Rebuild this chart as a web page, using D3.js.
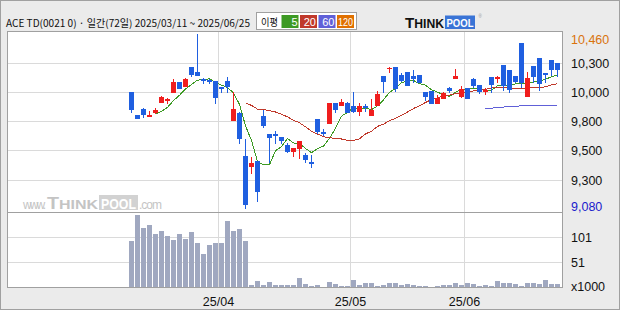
<!DOCTYPE html>
<html>
<head>
<meta charset="utf-8">
<script src="https://cdn.jsdelivr.net/npm/d3@7"></script>
<style>
body{margin:0;background:#ebebeb}
svg{display:block}
text{font-family:"Liberation Sans",Arial,sans-serif}
</style>
</head>
<body>
<div id="chart"></div>
<script>
// daily candles, 2025/03/11 ~ 2025/06/25 (72 trading days)
var dates = ["03/11","03/12","03/13","03/14","03/17","03/18","03/19","03/20","03/21","03/24","03/25","03/26","03/27","03/28","03/31",
	"04/01","04/02","04/03","04/04","04/07","04/08","04/09","04/10","04/11","04/14","04/15","04/16","04/17","04/18","04/21","04/22","04/23","04/24","04/25","04/28","04/29","04/30",
	"05/02","05/07","05/08","05/09","05/12","05/13","05/14","05/15","05/16","05/19","05/20","05/21","05/22","05/23","05/26","05/27","05/28","05/29","05/30",
	"06/02","06/04","06/05","06/09","06/10","06/11","06/12","06/13","06/16","06/17","06/18","06/19","06/20","06/23","06/24","06/25"];
var opens = [10002,9820,9868,9815,9836,9918,9933,9997,10084,10044,
	10200,10163,10103,10097,10089,10040,10089,9775,9836,9496,
	9411,9456,9812,9670,9667,9646,9583,9527,9551,9503,
	9448,9789,9686,9751,9915,9894,9915,9892,9846,9889,
	9815,9894,10129,10185,10200,10137,10158,10129,10135,10002,
	10010,9910,9949,10034,10105,9963,10036,10105,10058,10002,
	10121,10105,10216,10177,10129,10390,9965,10208,10272,10153,
	10256,10232];
var highs = [10002,9820,9878,9852,9876,9967,9955,10105,10084,10116,
	10200,10460,10111,10108,10089,10044,10124,10002,9844,9630,
	9488,9456,9860,9670,9694,9646,9596,9559,9614,9519,
	9506,9789,9709,9915,9915,9947,9926,10005,9915,9907,
	9947,10010,10129,10200,10200,10150,10163,10177,10135,10002,
	10010,9976,10002,10044,10185,10050,10036,10116,10058,10036,
	10121,10131,10216,10177,10129,10390,10161,10208,10272,10153,
	10256,10232];
var lows = [9834,9786,9799,9815,9831,9918,9910,9997,10029,10044,
	10121,10131,10063,10068,9905,9997,9997,9775,9588,9080,
	9353,9134,9720,9438,9593,9593,9522,9490,9474,9443,
	9403,9672,9656,9751,9838,9894,9834,9834,9815,9842,
	9815,9894,9992,10150,10005,10079,10052,10071,10071,9933,
	9910,9910,9949,9997,10105,9952,9949,10036,9987,9976,
	9997,10071,10013,9992,10071,10032,9965,10071,10013,10071,
	10129,10124];
var closes = [9860,9791,9818,9818,9857,9963,9949,10084,10029,10105,
	10137,10131,10087,10082,9957,10026,10040,9868,9630,9110,
	9440,9210,9736,9640,9656,9614,9527,9559,9614,9464,
	9443,9686,9667,9915,9860,9926,9838,9846,9892,9876,
	9862,9987,10084,10195,10026,10089,10052,10105,10071,9965,
	9910,9957,9994,10008,10129,10024,9949,10050,10005,10021,
	10058,10121,10050,10021,10082,10071,10113,10121,10068,10139,
	10179,10179];
// volume, x1000
var volumes = [94,146,120,126,108,114,104,96,108,98,
	112,90,68,86,90,90,134,114,118,94,
	6,14,6,12,6,6,6,6,20,8,
	4,6,2,12,8,4,4,16,6,10,
	10,4,6,10,10,6,8,6,4,4,
	2,4,6,6,10,6,10,8,4,6,
	4,14,10,10,8,4,10,10,8,16,
	8,8];

// right axis: gridline prices and the labels printed beside them
var gridPrices = [10230,10000,9768,9536,9304];
var gridLabels = ["10,300","10,000","9,800","9,500","9,300"];
var volTicks = [101,51];
var maPeriods = [5,20,60,120];
var maColors = ["#3d9a24","#c0392b","#6060d8","#e07000"];

var W = 620, H = 310;
var L = 7.5, R = 562.5, T = 31.5, SEP = 212.5, B = 287.5;
var slots = 92, offset = slots - dates.length;
var upColor = "#f01e1e", downColor = "#1f5fe0";

var svg = d3.select("#chart").append("svg").attr("width",W).attr("height",H);
svg.append("rect").attr("x",0.5).attr("y",0.5).attr("width",W-1).attr("height",H-1)
	.attr("fill","#ebebeb").attr("stroke","#a0a0a0");
svg.append("rect").attr("x",L).attr("y",T).attr("width",R-L).attr("height",B-T).attr("fill","#fff");

var x = d3.scaleBand().domain(d3.range(slots)).range([8.5,560.5]);
var cx = function(i){ return x(i + offset) + x.bandwidth()/2; };
var y = d3.scaleLinear().domain([d3.min(lows),d3.max(highs)]).range([208.5,34.2]);
var vy = d3.scaleLinear().domain([0,101]).range([287.5,237]);

var grid = svg.append("g").attr("stroke","#dadada").attr("shape-rendering","crispEdges");
gridPrices.forEach(function(v){
	var gy = Math.floor(y(v)) + 0.5;
	grid.append("line").attr("x1",L).attr("x2",R).attr("y1",gy).attr("y2",gy);
});
volTicks.forEach(function(v){
	var gy = Math.floor(vy(v)) + 0.5;
	grid.append("line").attr("x1",L).attr("x2",R).attr("y1",gy).attr("y2",gy);
});
var monthStarts = dates.map(function(d,i){ return i; }).filter(function(i){
	return i > 0 && dates[i].slice(0,2) != dates[i-1].slice(0,2);
});
monthStarts.forEach(function(i){
	grid.append("line").attr("x1",x(i+offset)).attr("x2",x(i+offset)).attr("y1",T).attr("y2",B);
});

// watermark
var wm = svg.append("g").attr("fill","#c4c4c4");
wm.append("text").attr("x",23).attr("y",209).attr("font-size",12).attr("textLength",23).text("www.");
wm.append("text").attr("x",47).attr("y",209).attr("font-weight","bold")
	.attr("textLength",51).attr("lengthAdjust","spacingAndGlyphs")
	.html('<tspan font-size="16">T</tspan><tspan font-size="13">HINK</tspan>');
wm.append("rect").attr("x",99).attr("y",195).attr("width",39).attr("height",15).attr("fill","#d2d2d2");
wm.append("text").attr("x",101).attr("y",208.5).attr("font-size",14)
	.attr("textLength",35).attr("lengthAdjust","spacingAndGlyphs")
	.attr("font-weight","bold").attr("fill","#fff").text("POOL");
wm.append("text").attr("x",139).attr("y",209).attr("font-size",12).attr("textLength",23).text(".com");

// volume
svg.append("g").selectAll("rect").data(volumes).enter().append("rect")
	.attr("x",function(d,i){ return cx(i) - 2.5; })
	.attr("width",5)
	.attr("y",function(d){ return vy(d); })
	.attr("height",function(d){ return vy(0) - vy(d); })
	.attr("fill","#a0a8c0")
	.attr("shape-rendering","crispEdges");

// moving averages
var lineGen = d3.line().defined(function(d){ return d != null; })
	.x(function(d,i){ return cx(i); }).y(function(d){ return y(d); });
maPeriods.forEach(function(n,k){
	var ma = closes.map(function(c,i){
		return i >= n-1 ? d3.mean(closes.slice(i-n+1,i+1)) : null;
	});
	if(ma.every(function(v){ return v == null; })){ return; }
	svg.append("path").datum(ma).attr("d",lineGen).attr("fill","none")
		.attr("stroke",maColors[k]).attr("stroke-width",1).attr("shape-rendering","crispEdges");
});

// candles
var cg = svg.append("g").attr("shape-rendering","crispEdges");
dates.forEach(function(d,i){
	var up = closes[i] >= opens[i];
	var col = up ? upColor : downColor;
	cg.append("line").attr("x1",cx(i)).attr("x2",cx(i))
		.attr("y1",y(highs[i])).attr("y2",y(lows[i])).attr("stroke",col);
	var top = y(Math.max(opens[i],closes[i])), bot = y(Math.min(opens[i],closes[i]));
	cg.append("rect").attr("x",cx(i)-2.5).attr("width",5)
		.attr("y",top).attr("height",Math.max(1.5,bot-top)).attr("fill",col);
});

// frame
var frame = svg.append("g").attr("stroke","#a0a0a0").attr("fill","none").attr("shape-rendering","crispEdges");
frame.append("rect").attr("x",L).attr("y",T).attr("width",R-L).attr("height",B-T);
frame.append("line").attr("x1",L).attr("x2",R).attr("y1",SEP).attr("y2",SEP);

// right axis labels
var ax = svg.append("g").attr("font-size",12.5).attr("fill","#111");
gridPrices.forEach(function(v,k){
	ax.append("text").attr("x",571).attr("y",Math.floor(y(v))+0.5).attr("dy","0.36em").text(gridLabels[k]);
});
var fmt = d3.format(",");
ax.append("text").attr("x",571).attr("y",Math.max(39,y(d3.max(highs)))).attr("dy","0.36em")
	.attr("fill","#d9730d").text(fmt(d3.max(highs)));
ax.append("text").attr("x",571).attr("y",Math.min(206.5,y(d3.min(lows)))).attr("dy","0.36em")
	.attr("fill","#1a1acc").text(fmt(d3.min(lows)));
volTicks.forEach(function(v){
	ax.append("text").attr("x",571).attr("y",Math.floor(vy(v))+0.5).attr("dy","0.36em").text(v);
});
ax.append("text").attr("x",571).attr("y",286).attr("dy","0.36em").text("x1000");

// month labels
monthStarts.forEach(function(i){
	svg.append("text").attr("x",x(i+offset)).attr("y",301).attr("dy","0.36em")
		.attr("text-anchor","middle").attr("font-size",12.5).attr("fill","#111")
		.text("25/" + dates[i].slice(0,2));
});

// title
svg.append("text").attr("x",6).attr("y",26.5).attr("font-size",10)
	.style("font-family","'Noto Sans CJK KR',sans-serif").attr("fill","#111")
	.attr("textLength",244).attr("lengthAdjust","spacingAndGlyphs")
	.text("ACE TD(0021 0) · 일간(" + dates.length + "일) 2025/" + dates[0] + " ~ 2025/" + dates[dates.length-1]);

// legend
var lg = svg.append("g");
lg.append("rect").attr("x",256.5).attr("y",12.5).attr("width",100).attr("height",17)
	.attr("fill","#fff").attr("stroke","#a0a0a0").attr("shape-rendering","crispEdges");
lg.append("text").attr("x",261).attr("y",25.5).attr("font-size",10)
	.style("font-family","'Noto Sans CJK KR',sans-serif").attr("fill","#111")
	.attr("textLength",17).attr("lengthAdjust","spacingAndGlyphs").text("이평");
var boxX = [281.5,300,318.5,337];
maPeriods.forEach(function(n,k){
	lg.append("rect").attr("x",boxX[k]).attr("y",15).attr("width",17).attr("height",13).attr("fill",maColors[k]);
	var t = lg.append("text").attr("x",boxX[k]+16).attr("y",26).attr("text-anchor","end")
		.attr("font-size",11).attr("fill","#fff").text(n);
	if(String(n).length > 2){ t.attr("x",boxX[k]+1).attr("text-anchor","start").attr("font-size",10).attr("textLength",15).attr("lengthAdjust","spacingAndGlyphs"); }
});

// logo
var logo = svg.append("g");
logo.append("text").attr("x",405).attr("y",28).attr("font-weight","bold").attr("fill","#111")
	.attr("textLength",39).attr("lengthAdjust","spacingAndGlyphs")
	.html('<tspan font-size="15.5">T</tspan><tspan font-size="12.5">HINK</tspan>');
logo.append("rect").attr("x",445).attr("y",15.5).attr("width",30).attr("height",13.5).attr("fill","#3a74d6");
logo.append("text").attr("x",446.5).attr("y",27).attr("font-size",11)
	.attr("textLength",27).attr("lengthAdjust","spacingAndGlyphs")
	.attr("font-weight","bold").attr("fill","#fff").text("POOL");
logo.append("text").attr("x",478.5).attr("y",18).attr("font-size",4.5).attr("fill","#999").text("®");
</script>
</body>
</html>
